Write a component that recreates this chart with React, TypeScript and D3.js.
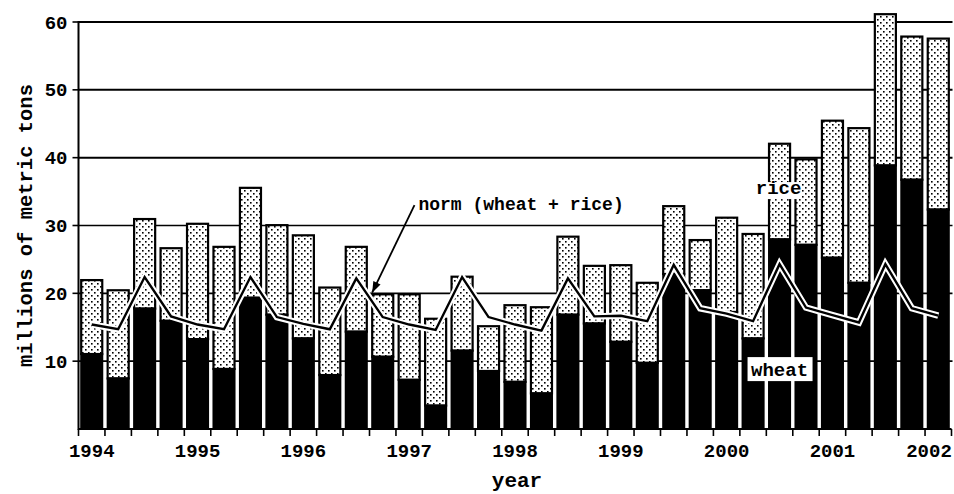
import * as d3 from "d3";

// quarterly periods, 1994 Q1 .. 2002 Q1
const periods = [
  "1994Q1", "1994Q2", "1994Q3", "1994Q4",
  "1995Q1", "1995Q2", "1995Q3", "1995Q4",
  "1996Q1", "1996Q2", "1996Q3", "1996Q4",
  "1997Q1", "1997Q2", "1997Q3", "1997Q4",
  "1998Q1", "1998Q2", "1998Q3", "1998Q4",
  "1999Q1", "1999Q2", "1999Q3", "1999Q4",
  "2000Q1", "2000Q2", "2000Q3", "2000Q4",
  "2001Q1", "2001Q2", "2001Q3", "2001Q4",
  "2002Q1",
];

const wheat = [
  11.2, 7.6, 17.9, 16.1,
  13.4, 9.0, 19.5, 17.0,
  13.5, 8.1, 14.5, 10.8,
  7.4, 3.6, 11.7, 8.7,
  7.1, 5.4, 17.0, 15.7,
  13.0, 9.9, 23.0, 20.6,
  17.4, 13.5, 28.1, 27.3,
  25.4, 21.7, 39.0, 36.9,
  32.5,
];

const rice = [
  10.9, 13.0, 13.2, 10.7,
  17.0, 18.0, 16.2, 13.2,
  15.2, 12.9, 12.5, 9.2,
  12.6, 12.8, 10.9, 6.6,
  11.3, 12.7, 11.5, 8.5,
  11.3, 11.8, 10.0, 7.4,
  13.9, 15.4, 14.1, 12.6,
  20.2, 22.8, 22.3, 21.1,
  25.2,
];

// norm (wheat + rice)
const norm = [
  15.4, 14.7, 22.4, 16.6,
  15.4, 14.7, 22.4, 16.5,
  15.5, 14.7, 22.2, 16.5,
  15.4, 14.6, 22.4, 16.5,
  15.4, 14.5, 22.2, 16.6,
  16.7, 15.9, 24.2, 17.8,
  17.0, 15.9, 24.3, 17.9,
  16.8, 15.7, 24.3, 17.8,
  16.7,
];

const yearLabels = ["1994", "1995", "1996", "1997", "1998", "1999", "2000", "2001", "2002"];
const yTicks = [10, 20, 30, 40, 50, 60];

const W = 954;
const H = 494;
const FONT = "'Courier New', 'Liberation Mono', monospace";

export default function App() {
  const left = 78.5;
  const right = 951.5;
  const top = 22;
  const bottom = 429;

  const x = d3.scaleBand<string>().domain(periods).range([left, right]).padding(0);
  const bw = x.bandwidth();
  const gap = 3.4;
  const y = d3.scaleLinear().domain([0, 60]).range([bottom, top]);

  const rows = periods.map((p, i) => ({ p, wheat: wheat[i], rice: rice[i] }));
  const series = d3.stack<any>().keys(["wheat", "rice"])(rows);

  const cx = (i: number) => (x(periods[i]) as number) + bw / 2;
  const line = d3
    .line<number>()
    .x((_, i) => cx(i))
    .y((d) => y(d));
  const normPath = line(norm) || "";

  // annotation anchors
  const labelIdx = 26; // 2000Q3
  const arrowFrom: [number, number] = [left + 12.7 * bw, y(33.0)];
  const arrowTip: [number, number] = [left + 11.1 * bw, y(20.1)];
  const ang = Math.atan2(arrowTip[1] - arrowFrom[1], arrowTip[0] - arrowFrom[0]);
  const ah = 11;
  const aw = 4;
  const headPts = [
    arrowTip,
    [arrowTip[0] - ah * Math.cos(ang) + aw * Math.sin(ang), arrowTip[1] - ah * Math.sin(ang) - aw * Math.cos(ang)],
    [arrowTip[0] - ah * Math.cos(ang) - aw * Math.sin(ang), arrowTip[1] - ah * Math.sin(ang) + aw * Math.cos(ang)],
  ];

  return (
    <svg
      width={W}
      height={H}
      style={{ position: "absolute", left: 0, top: 0, background: "#fff" }}
      fontFamily={FONT}
      fontWeight="bold"
    >
      <defs>
        <pattern id="dots" width="6" height="6" patternUnits="userSpaceOnUse">
          <rect width="6" height="6" fill="#fff" />
          <rect x="1" y="1" width="1.6" height="1.6" fill="#000" />
          <rect x="4" y="4" width="1.6" height="1.6" fill="#000" />
        </pattern>
      </defs>

      {/* gridlines */}
      {yTicks.map((t) => (
        <line key={t} x1={left} x2={right + 1} y1={y(t)} y2={y(t)} stroke="#000" strokeWidth={t >= 40 ? 2 : 1.6} />
      ))}

      {/* bars */}
      {series[0].map((d, i) => (
        <g key={periods[i]}>
          <rect
            x={(x(periods[i]) as number) + gap / 2 + 1}
            y={y(series[1][i][1]) + 1}
            width={bw - gap - 2}
            height={y(series[1][i][0]) - y(series[1][i][1])}
            fill="url(#dots)"
            stroke="#000"
            strokeWidth={2.2}
          />
          <rect
            x={(x(periods[i]) as number) + gap / 2}
            y={y(d[1])}
            width={bw - gap}
            height={y(d[0]) - y(d[1])}
            fill="#000"
          />
        </g>
      ))}

      {/* norm line */}
      <path d={normPath} fill="none" stroke="#fff" strokeWidth={6.5} strokeLinejoin="miter" />
      <path d={normPath} fill="none" stroke="#000" strokeWidth={2.4} strokeLinejoin="miter" />

      {/* axes */}
      <line x1={left} x2={left} y1={top - 1} y2={bottom + 1} stroke="#000" strokeWidth={2} />
      <line x1={left} x2={right} y1={bottom} y2={bottom} stroke="#000" strokeWidth={2} />
      {yTicks.map((t) => (
        <g key={"yt" + t}>
          <line x1={left - 6} x2={left} y1={y(t)} y2={y(t)} stroke="#000" strokeWidth={1.6} />
          <text x={left - 11} y={y(t)} dy="0.35em" textAnchor="end" fontSize={19}>
            {t}
          </text>
        </g>
      ))}
      {d3.range(periods.length + 1).map((i) => (
        <line
          key={"xt" + i}
          x1={left + i * bw}
          x2={left + i * bw}
          y1={bottom}
          y2={bottom + 7}
          stroke="#000"
          strokeWidth={1.6}
        />
      ))}
      {yearLabels.map((yr, k) => (
        <text key={yr} x={Math.min(cx(k * 4), W - 25)} y={457} textAnchor="middle" fontSize={19}>
          {yr}
        </text>
      ))}

      <text x={517} y={487} textAnchor="middle" fontSize={21}>
        year
      </text>
      <text transform={`translate(32,${(top + bottom) / 2}) rotate(-90)`} textAnchor="middle" fontSize={20.5}>
        millions of metric tons
      </text>

      {/* annotations */}
      <line x1={arrowFrom[0]} y1={arrowFrom[1]} x2={arrowTip[0]} y2={arrowTip[1]} stroke="#000" strokeWidth={1.8} />
      <polygon points={headPts.map((p) => p.join(",")).join(" ")} fill="#000" />
      <text x={arrowFrom[0] + 4} y={y(32.3)} fontSize={18}>
        norm (wheat + rice)
      </text>

      <rect x={cx(labelIdx) - 24} y={y(36.4)} width={46} height={17} fill="#fff" />
      <text x={cx(labelIdx) - 1} y={y(34.7)} textAnchor="middle" fontSize={19}>
        rice
      </text>

      <rect x={cx(labelIdx) - 32} y={y(10.6)} width={65} height={24} fill="#fff" />
      <text x={cx(labelIdx)} y={y(7.8)} textAnchor="middle" fontSize={19}>
        wheat
      </text>
    </svg>
  );
}
